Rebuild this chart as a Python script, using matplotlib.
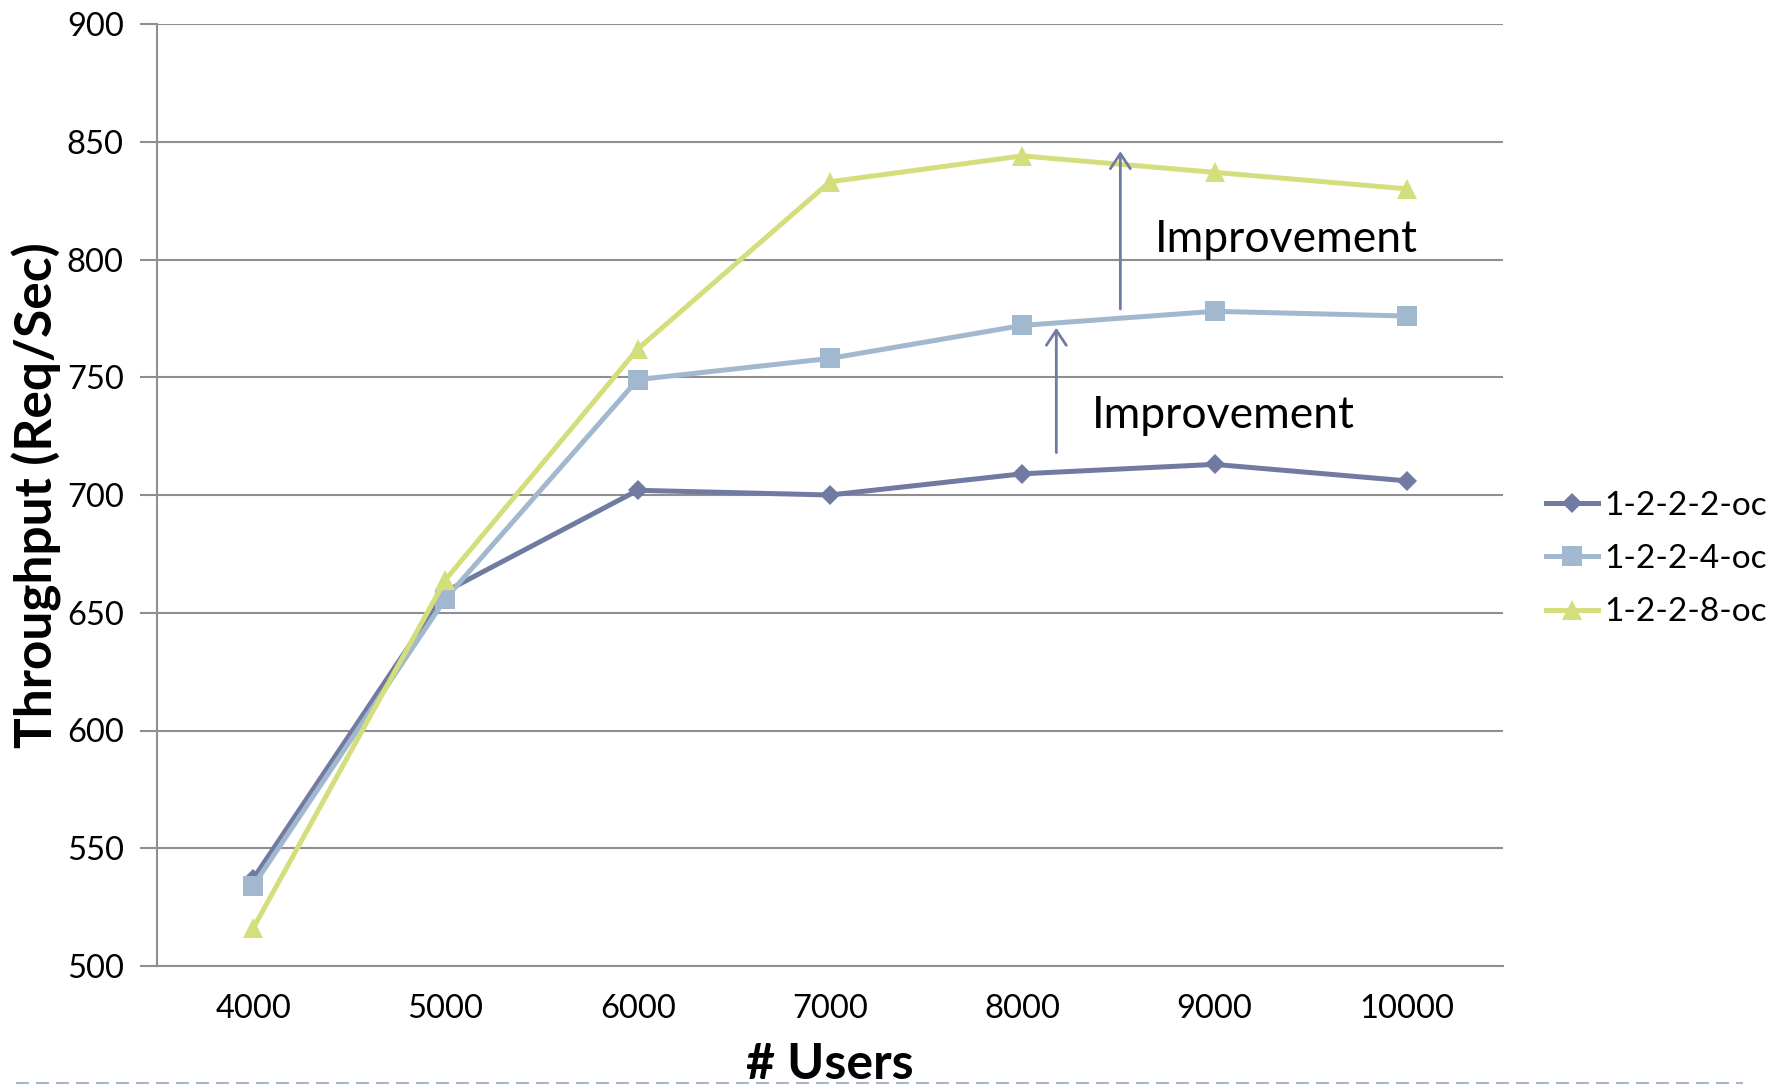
import matplotlib
matplotlib.use("Agg")
import matplotlib.pyplot as plt
from matplotlib.lines import Line2D

# Throughput measurements per configuration
users = [4000, 5000, 6000, 7000, 8000, 9000, 10000]
oc2 = [537, 659, 702, 700, 709, 713, 706]
oc4 = [534, 656, 749, 758, 772, 778, 776]
oc8 = [516, 664, 762, 833, 844, 837, 830]
series_names = ["1-2-2-2-oc", "1-2-2-4-oc", "1-2-2-8-oc"]
y_ticks = [500, 550, 600, 650, 700, 750, 800, 850, 900]

# Improvement arrows: (x, from, to) and label anchors (x, baseline y)
arrow_upper = (8510, 779, 846)
arrow_lower = (8177, 718, 771)
label_upper = (8690, 803)
label_lower = (8362, 728.5)

FONT = "Lato"
plt.rcParams["font.family"] = [FONT, "DejaVu Sans"]

c_dark = "#717ba2"
c_light = "#a1b8cf"
c_yellow = "#d5de7c"
c_grid = "#8f8f8f"

fig = plt.figure(figsize=(17.83, 10.90), dpi=100)
ax = fig.add_axes([157 / 1783, 1 - 966 / 1090, 1346 / 1783, 942 / 1090])

ax.plot(users, oc2, color=c_dark, lw=3.6, marker="D", ms=10.5,
        markeredgewidth=0, label=series_names[0], zorder=3)
ax.plot(users, oc4, color=c_light, lw=3.6, marker="s", ms=14,
        markeredgewidth=0, label=series_names[1], zorder=4)
ax.plot(users, oc8, color=c_yellow, lw=3.6, marker="^", ms=14,
        markeredgewidth=0, label=series_names[2], zorder=5)

ax.set_xlim(3500, 10500)
ax.set_ylim(500, 900)
ax.set_xticks(users)
ax.set_xticklabels([str(u) for u in users])
ax.set_yticks(y_ticks)
ax.set_yticklabels([str(v) for v in y_ticks])

ax.grid(axis="y", color=c_grid, lw=1.5, zorder=1)
ax.set_axisbelow(True)
for side in ("top", "right"):
    ax.spines[side].set_visible(False)
for side in ("left", "bottom"):
    ax.spines[side].set_color(c_grid)
    ax.spines[side].set_linewidth(1.5)

ax.tick_params(axis="y", length=12, width=1.5, color=c_grid, pad=12,
               labelsize=23.5)
ax.tick_params(axis="x", length=0, pad=20, labelsize=23.5)

ax.set_ylabel("Throughput (Req/Sec)", fontsize=37, fontweight="bold")
ax.yaxis.set_label_coords(-0.0706, 0.5)
ax.set_xlabel("# Users", fontsize=36, fontweight="bold", va="top")
ax.xaxis.set_label_coords(0.5, -0.081)

arrow_kw = dict(arrowstyle="->, head_length=0.6, head_width=0.4",
                color=c_dark, lw=2, mutation_scale=18, shrinkA=0, shrinkB=0)
for ax_x, y0, y1 in (arrow_upper, arrow_lower):
    ax.annotate("", xy=(ax_x, y1), xytext=(ax_x, y0), arrowprops=arrow_kw,
                zorder=6)
for lx, ly in (label_upper, label_lower):
    ax.text(lx, ly, "Improvement", fontsize=32, ha="left", va="baseline",
            zorder=7)

ax.legend(loc="center left", bbox_to_anchor=(1546 / 1783, 1 - 559 / 1090),
          bbox_transform=fig.transFigure, frameon=False, fontsize=24,
          handlelength=1.55, handletextpad=0.2, labelspacing=0.7,
          borderpad=0, borderaxespad=0)

# Dashed rule along the bottom of the figure
fig.add_artist(Line2D([16 / 1783, 1743 / 1783], [1 - 1083 / 1090] * 2,
                      transform=fig.transFigure, color="#a3b6cb", lw=1.5,
                      dashes=(6.2, 3.4), zorder=-1))

fig.savefig("out.png", dpi=100)
